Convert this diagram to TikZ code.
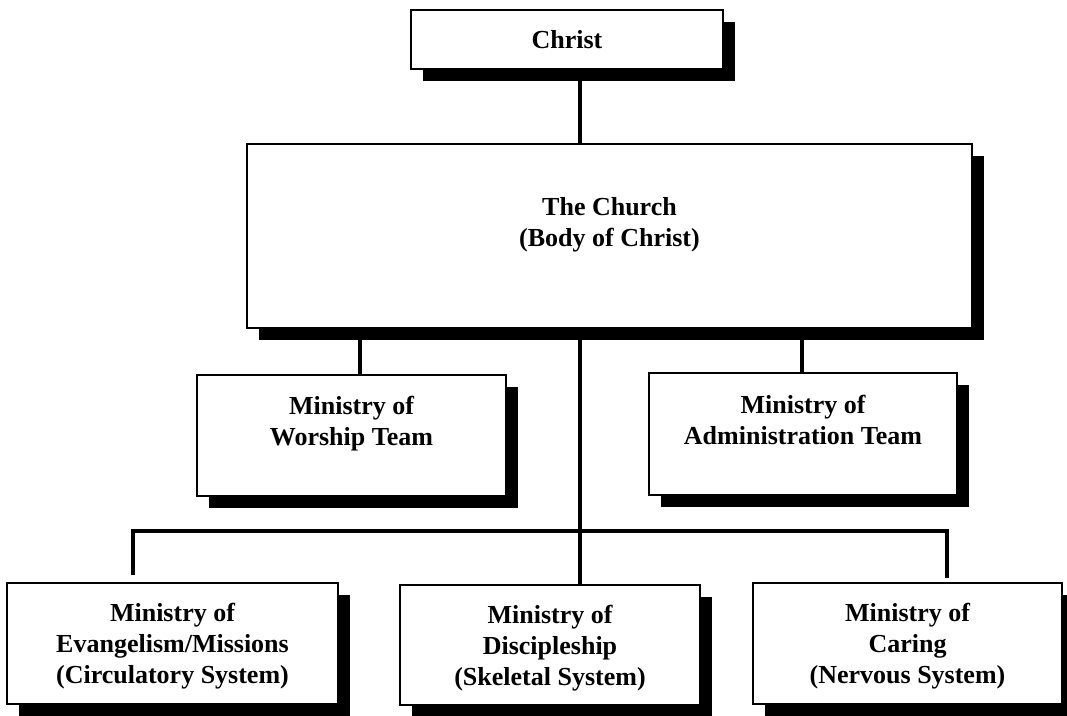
\documentclass[tikz,border=0pt]{standalone}
\usepackage{fontspec}
\setmainfont{Liberation Serif}
\usetikzlibrary{shadows}

\tikzset{
  box/.style={draw, line width=2pt, fill=white, inner sep=0pt, align=center,
    font=\bfseries\fontsize{26}{31}\selectfont,
    drop shadow={shadow xshift=12pt, shadow yshift=-12pt, fill=black, opacity=1}},
  twoline/.style={text depth=29pt},
  threeline/.style={text depth=0pt},
  link/.style={line width=3.2pt}
}

\begin{document}
\begin{tikzpicture}[x=1pt, y=-1pt]
		%%%%% START %%%%%
		\useasboundingbox (0, 0) rectangle (1067, 715);
		
		\node[box, minimum width=312, minimum height=59] (christ) at (567, 39.5) {Christ};
		\node[box, twoline, minimum width=725, minimum height=184] (church) at (609.5, 236) {The Church\\(Body of Christ)};
		
		\node[box, twoline, minimum width=309, minimum height=121] (worship) at (351.5, 435.5) {Ministry of\\Worship Team};
		\node[box, twoline, minimum width=308, minimum height=122] (admin) at (803, 434) {Ministry of\\Administration Team};
		
		\node[box, threeline, minimum width=331, minimum height=121] (evang) at (172.5, 643.5) {Ministry of\\Evangelism/Missions\\(Circulatory System)};
		\node[box, threeline, minimum width=300, minimum height=120] (disc) at (550, 645) {Ministry of\\Discipleship\\(Skeletal System)};
		\node[box, threeline, minimum width=309, minimum height=121] (caring) at (907.5, 643.5) {Ministry of\\Caring\\(Nervous System)};
		
		\coordinate (trunk) at (580, 0);
		\coordinate (wtap) at (360, 0);
		\coordinate (atap) at (802, 0);
		\coordinate (barL) at (133, 531);
		\coordinate (barR) at (947, 531);
		\coordinate (dropL) at (133, 575);
		\coordinate (dropR) at (947, 578);
		
		\draw[link] (christ.south -| trunk) -- (church.north -| trunk);
		\draw[link] (church.south -| trunk) -- (disc.north -| trunk);
		\draw[link] (church.south -| wtap) -- (worship.north -| wtap);
		\draw[link] (church.south -| atap) -- (admin.north -| atap);
		\draw[link] (dropL) -- (barL) -- (barR) -- (dropR);
		
		%%%%% END %%%%%
	\end{tikzpicture}
\end{document}
